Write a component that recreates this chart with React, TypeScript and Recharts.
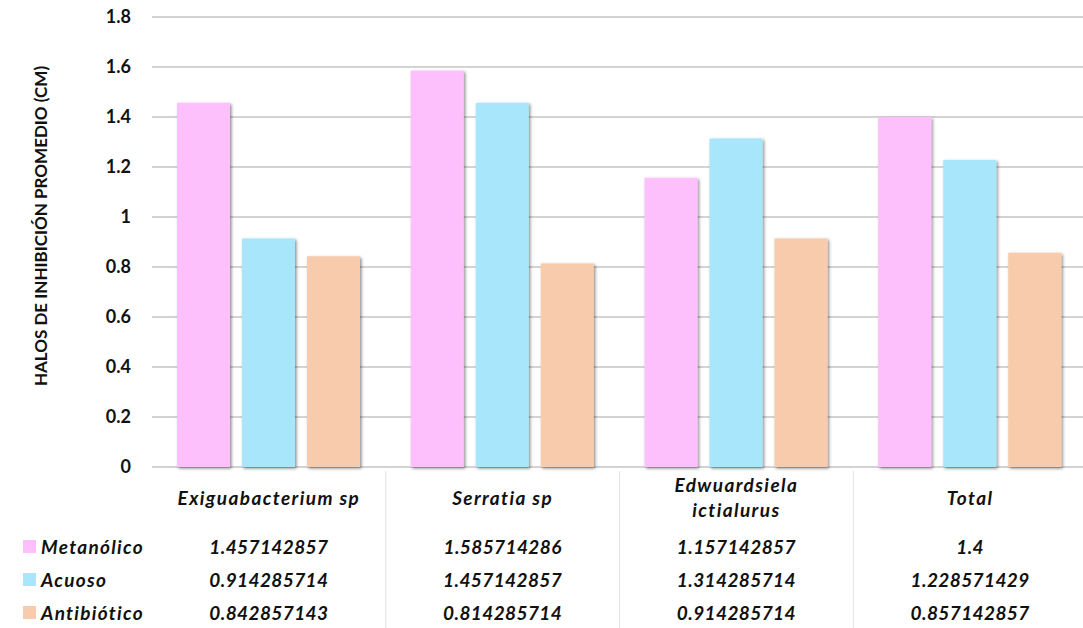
import React from "react";
import { BarChart, Bar, XAxis, YAxis, CartesianGrid } from "recharts";

const categories = ["Exiguabacterium sp", "Serratia sp", "Edwuardsiela ictialurus", "Total"];
const categoryLines = [["Exiguabacterium sp"], ["Serratia sp"], ["Edwuardsiela", "ictialurus"], ["Total"]];
const metanolico = [1.457142857, 1.585714286, 1.157142857, 1.4];
const acuoso = [0.914285714, 1.457142857, 1.314285714, 1.228571429];
const antibiotico = [0.842857143, 0.814285714, 0.914285714, 0.857142857];
const seriesNames = ["Metanólico", "Acuoso", "Antibiótico"];
const yTicks = [0, 0.2, 0.4, 0.6, 0.8, 1, 1.2, 1.4, 1.6, 1.8];

const colors = ["#fdc0fd", "#a8e6fb", "#f7cbab"]; // pink, light blue, peach
const font = "Lato, 'Open Sans', sans-serif";

const data = categories.map((c, i) => ({
  name: c,
  m: metanolico[i],
  a: acuoso[i],
  b: antibiotico[i],
}));
const seriesValues = [metanolico, acuoso, antibiotico];

const ShadowBar = (props: any) => {
  const { x, y, width, height, fill } = props;
  return <rect x={x} y={y} width={width} height={height} fill={fill} filter="url(#barShadow)" />;
};

// category label + data table cells under each band
const TableTick = (props: any) => {
  const { x, y, payload, index } = props;
  const half = payload?.offset ?? 116.9;
  const lines = categoryLines[index] || [payload.value];
  const labelY = lines.length > 1 ? [y + 17, y + 42] : [y + 30];
  return (
    <g>
      {index > 0 && (
        <line x1={x - half} x2={x - half} y1={y - 4} y2={y + 170} stroke="#e4e4e4" strokeWidth={1} />
      )}
      {lines.map((l: string, k: number) => (
        <text key={k} x={x} y={labelY[k]} textAnchor="middle" fontSize={19} letterSpacing={1.4} fontWeight={700} fontStyle="italic" fill="#111" fontFamily={font}>
          {l}
        </text>
      ))}
      {seriesValues.map((vals, k) => (
        <text key={"v" + k} x={x} y={y + 79 + k * 33} textAnchor="middle" fontSize={19} letterSpacing={0.4} fontWeight={700} fontStyle="italic" fill="#111" fontFamily={font}>
          {String(vals[index])}
        </text>
      ))}
    </g>
  );
};

export default function App() {
  return (
    <div style={{ position: "absolute", left: 0, top: 0, width: 1083, height: 628, overflow: "hidden", background: "#fff", fontFamily: font }}>
      <svg width={0} height={0} style={{ position: "absolute" }}>
        <defs>
          <filter id="barShadow" x="-20%" y="-10%" width="150%" height="130%">
            <feDropShadow dx={1.5} dy={1.5} stdDeviation={1.6} floodColor="#000" floodOpacity={0.45} />
          </filter>
        </defs>
      </svg>
      <BarChart
        width={1100}
        height={628}
        data={data}
        margin={{ top: 17, right: 13, left: 0, bottom: 0 }}
        barGap={12}
        barCategoryGap={25}
      >
        <CartesianGrid vertical={false} stroke="#c4c4c4" strokeWidth={1.5} />
        <XAxis
          dataKey="name"
          height={161}
          axisLine={false}
          tickLine={false}
          interval={0}
          tick={<TableTick />}
        />
        <YAxis
          width={152}
          domain={[0, 1.8]}
          ticks={yTicks}
          axisLine={false}
          tickLine={false}
          tickSize={0}
          tickMargin={21}
          tick={{ fontSize: 18, fontWeight: 700, fill: "#111", fontFamily: font }}
        />
        <Bar dataKey="m" barSize={53} fill={colors[0]} shape={<ShadowBar />} isAnimationActive={false} />
        <Bar dataKey="a" barSize={53} fill={colors[1]} shape={<ShadowBar />} isAnimationActive={false} />
        <Bar dataKey="b" barSize={53} fill={colors[2]} shape={<ShadowBar />} isAnimationActive={false} />
      </BarChart>
      <div
        style={{
          position: "absolute",
          left: 40,
          top: 226,
          transform: "translate(-50%, -50%) rotate(-90deg)",
          whiteSpace: "nowrap",
          fontSize: 17,
          fontWeight: 700,
          color: "#111",
        }}
      >
        HALOS DE INHIBICIÓN PROMEDIO (CM)
      </div>
      {seriesNames.map((s, k) => (
        <div
          key={s}
          style={{
            position: "absolute",
            left: 23,
            top: 535 + k * 33,
            height: 22,
            display: "flex",
            alignItems: "center",
            fontSize: 19,
            letterSpacing: 1.3,
            fontWeight: 700,
            fontStyle: "italic",
            color: "#111",
            whiteSpace: "nowrap",
          }}
        >
          <span style={{ display: "inline-block", width: 13, height: 13, background: colors[k], marginRight: 5 }} />
          {s}
        </div>
      ))}
    </div>
  );
}
